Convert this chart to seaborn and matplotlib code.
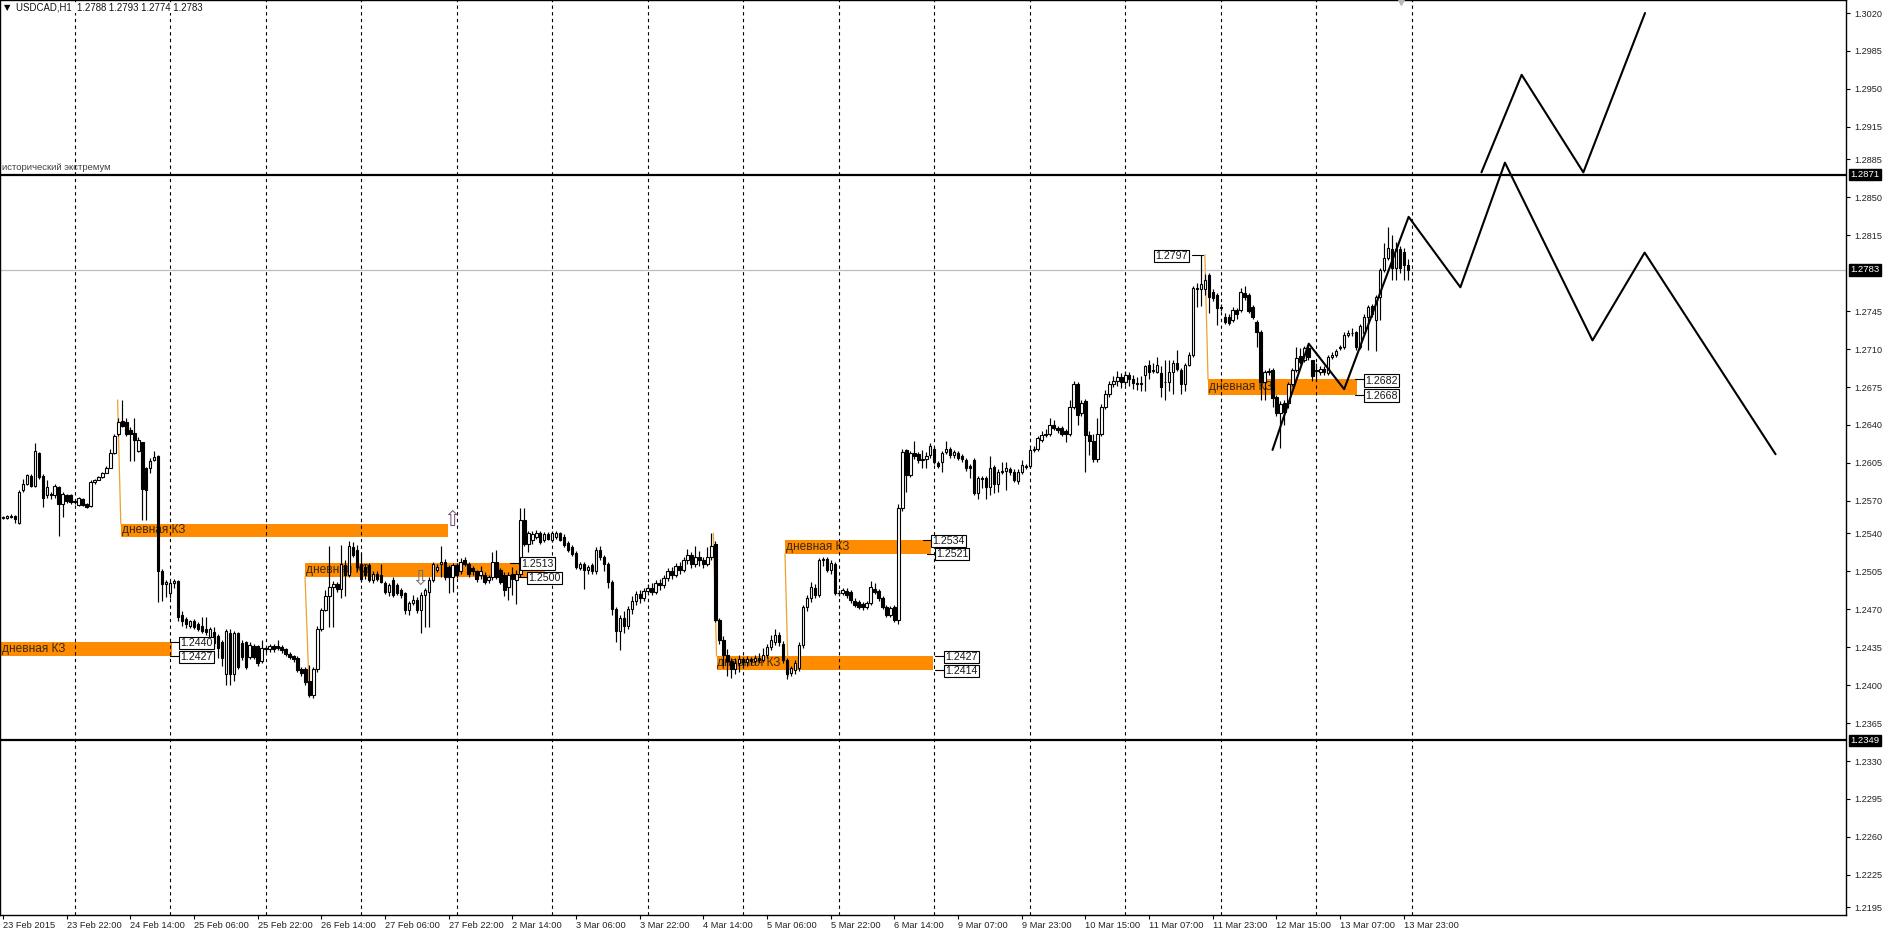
import numpy as np
import matplotlib
matplotlib.use('Agg')
import matplotlib.pyplot as plt
import seaborn as sns

# USDCAD H1, цены 1.XXXX записаны как XXXX (2555 = 1.2555), первый бар 23 Feb 06:00, строка = день
bar_open = [
    2555,2554,2555,2556,2550,2580,2586,2593,2584,2614,2593,2575,2576,2575,2583,2567,2575,2575,
    2570,2566,2572,2567,2565,2587,2589,2592,2596,2600,2614,2632,2644,2643,2635,2633,2616,2624,2600,2600,2608,2611,2505,2493,
    2485,2494,2496,2465,2461,2455,2459,2456,2455,2452,2444,2449,2445,2440,2410,2448,2410,2448,2439,2440,2426,2436,2436,2422,
    2434,2433,2436,2436,2435,2433,2429,2427,2425,2415,2415,2404,2391,2415,2452,2469,2482,2491,2493,2489,2511,2502,2527,2525,
    2512,2509,2511,2497,2503,2502,2494,2486,2497,2492,2488,2485,2469,2476,2479,2469,2483,2486,2497,2506,2512,2514,2509,2500,
    2511,2505,2515,2512,2508,2505,2502,2502,2497,2500,2514,2506,2502,2491,2503,2497,2503,2552,2530,2534,2537,2540,2534,2539,
    2534,2537,2540,2537,2531,2527,2522,2508,2512,2506,2511,2505,2525,2518,2512,2495,2470,2450,2462,2455,2470,2478,2484,2480,
    2487,2490,2486,2494,2492,2499,2505,2502,2510,2506,2515,2520,2512,2518,2515,2512,2518,2530,2460,2442,2428,2422,2415,2420,
    2424,2421,2424,2422,2425,2423,2428,2435,2440,2446,2438,2423,2411,2414,2416,2437,2472,2480,2490,2483,2515,2516,2506,2512,
    2485,2485,2487,2486,2478,2477,2475,2472,2476,2489,2487,2480,2472,2465,2472,2460,2563,2617,2594,2614,2613,2608,2609,2612,
    2618,2605,2606,2615,2618,2612,2614,2611,2608,2602,2608,2577,2591,2591,2583,2601,2586,2597,2598,2599,2597,2588,2597,2602,
    2602,2617,2618,2626,2631,2632,2640,2637,2637,2634,2632,2657,2678,2651,2662,2631,2625,2609,2632,2657,2669,2678,2681,2684,
    2680,2686,2682,2679,2678,2686,2695,2690,2689,2688,2680,2680,2689,2697,2691,2678,2695,2705,2766,2765,2765,2778,2763,2760,
    2748,2740,2740,2737,2746,2746,2762,2760,2749,2735,2726,2680,2689,2691,2666,2651,2660,2660,2678,2691,2704,2700,2711,2700,
    2690,2689,2692,2688,2703,2705,2711,2712,2723,2725,2726,2712,2725,2740,2750,2737,2758,2783,2794,2802,2785,2802,2800,2788,
]
bar_high = [
    2556,2557,2558,2557,2580,2590,2595,2595,2623,2615,2595,2589,2578,2586,2584,2578,2576,2576,
    2572,2574,2573,2568,2589,2590,2593,2597,2602,2618,2632,2646,2663,2646,2638,2646,2629,2624,2601,2610,2616,2612,2507,2497,
    2496,2498,2497,2468,2463,2460,2461,2458,2463,2463,2454,2454,2447,2442,2452,2452,2450,2449,2442,2441,2440,2438,2437,2442,
    2436,2438,2438,2442,2437,2434,2431,2428,2427,2417,2417,2419,2417,2455,2471,2488,2528,2496,2495,2529,2515,2533,2532,2529,
    2522,2512,2513,2505,2505,2512,2496,2494,2500,2494,2490,2486,2478,2483,2481,2486,2490,2500,2514,2512,2528,2516,2511,2513,
    2513,2517,2518,2514,2510,2506,2510,2504,2502,2523,2525,2508,2504,2504,2509,2506,2563,2563,2542,2542,2543,2542,2541,2541,
    2542,2542,2541,2539,2533,2529,2524,2514,2514,2511,2513,2527,2528,2520,2514,2497,2472,2465,2468,2473,2482,2487,2488,2490,
    2493,2494,2497,2498,2502,2508,2509,2513,2514,2518,2526,2523,2528,2524,2518,2527,2540,2533,2462,2445,2433,2425,2425,2428,
    2426,2427,2426,2428,2430,2434,2438,2446,2452,2449,2441,2425,2418,2423,2440,2474,2483,2495,2493,2517,2518,2518,2515,2514,
    2488,2490,2490,2488,2480,2479,2477,2478,2496,2494,2489,2482,2474,2473,2474,2567,2618,2618,2616,2625,2615,2617,2615,2623,
    2620,2607,2616,2625,2620,2617,2616,2613,2610,2604,2610,2593,2593,2593,2611,2603,2599,2606,2606,2601,2599,2599,2608,2604,
    2619,2621,2630,2634,2636,2646,2645,2639,2639,2636,2663,2681,2680,2663,2664,2634,2632,2646,2659,2672,2681,2685,2690,2688,
    2690,2689,2686,2684,2685,2695,2700,2697,2703,2694,2700,2700,2700,2709,2693,2697,2707,2768,2771,2797,2779,2780,2765,2762,
    2752,2743,2742,2749,2748,2766,2768,2762,2751,2737,2728,2691,2693,2693,2668,2662,2663,2680,2693,2712,2711,2713,2713,2700,
    2697,2694,2694,2705,2707,2710,2714,2726,2728,2729,2727,2733,2742,2751,2752,2760,2785,2808,2823,2815,2809,2805,2803,2793,
]
bar_low = [
    2553,2553,2554,2550,2549,2578,2585,2583,2583,2590,2564,2573,2572,2573,2538,2555,2568,2567,
    2567,2565,2565,2563,2564,2586,2589,2591,2596,2600,2613,2630,2638,2630,2607,2607,2615,2552,2552,2596,2607,2477,2478,2481,
    2480,2490,2459,2455,2453,2453,2452,2450,2448,2446,2442,2435,2425,2418,2400,2400,2404,2415,2423,2415,2424,2424,2418,2420,
    2431,2431,2431,2432,2430,2427,2424,2421,2412,2408,2400,2389,2388,2412,2450,2468,2454,2454,2486,2480,2482,2500,2518,2505,
    2495,2498,2495,2494,2496,2494,2484,2482,2481,2483,2480,2466,2465,2474,2467,2448,2454,2454,2495,2504,2500,2497,2485,2486,
    2499,2503,2510,2500,2502,2495,2498,2493,2494,2497,2498,2493,2482,2479,2483,2475,2500,2528,2523,2530,2535,2530,2532,2534,
    2532,2535,2533,2527,2523,2519,2507,2506,2489,2503,2503,2503,2515,2505,2490,2465,2440,2432,2448,2452,2466,2474,2476,2478,
    2484,2483,2484,2488,2490,2496,2498,2500,2503,2504,2512,2508,2509,2510,2508,2510,2515,2458,2438,2418,2408,2407,2410,2412,
    2417,2418,2419,2420,2421,2421,2425,2432,2437,2436,2420,2406,2408,2410,2413,2434,2468,2477,2480,2481,2510,2504,2503,2483,
    2482,2483,2480,2476,2472,2470,2469,2470,2474,2484,2478,2470,2463,2463,2458,2456,2561,2578,2592,2609,2605,2600,2600,2610,
    2604,2600,2597,2613,2610,2610,2608,2606,2598,2591,2575,2572,2582,2572,2575,2577,2578,2595,2580,2594,2587,2586,2595,2599,
    2600,2615,2616,2624,2629,2630,2635,2633,2630,2624,2630,2655,2640,2648,2597,2612,2606,2606,2630,2655,2666,2675,2676,2674,
    2677,2676,2673,2672,2671,2671,2682,2688,2688,2666,2663,2671,2669,2690,2669,2671,2694,2703,2749,2750,2760,2743,2754,2732,
    2745,2733,2732,2735,2738,2744,2755,2743,2738,2712,2663,2663,2686,2657,2648,2619,2640,2656,2676,2689,2696,2698,2700,2681,
    2681,2686,2686,2686,2701,2703,2709,2710,2721,2722,2709,2710,2723,2709,2740,2708,2737,2781,2792,2774,2774,2780,2774,2774,
]
bar_close = [
    2554,2556,2556,2553,2578,2586,2594,2584,2616,2592,2573,2583,2575,2584,2567,2576,2570,2569,
    2569,2573,2566,2564,2587,2589,2592,2596,2600,2614,2630,2643,2639,2632,2632,2626,2626,2581,2580,2607,2610,2505,2493,2495,
    2494,2496,2463,2459,2456,2459,2454,2452,2450,2449,2452,2439,2434,2425,2450,2410,2448,2417,2426,2417,2437,2426,2420,2434,
    2433,2436,2433,2434,2432,2429,2426,2424,2414,2411,2403,2391,2415,2452,2469,2482,2491,2493,2489,2512,2502,2528,2520,2509,
    2498,2502,2497,2503,2498,2495,2486,2492,2483,2485,2483,2469,2476,2479,2469,2483,2488,2497,2512,2509,2514,2500,2500,2511,
    2502,2514,2512,2503,2505,2498,2505,2495,2500,2514,2500,2495,2488,2502,2498,2503,2552,2530,2540,2539,2540,2532,2539,2535,
    2540,2540,2534,2529,2525,2521,2509,2512,2506,2509,2505,2525,2518,2512,2495,2470,2450,2462,2455,2470,2478,2484,2480,2487,
    2490,2486,2494,2492,2499,2505,2502,2510,2506,2515,2520,2512,2518,2515,2512,2518,2528,2460,2442,2428,2422,2415,2420,2424,
    2421,2424,2422,2425,2423,2428,2435,2442,2446,2440,2423,2410,2416,2420,2437,2472,2480,2491,2483,2515,2516,2506,2513,2485,
    2485,2488,2483,2479,2474,2472,2472,2476,2491,2486,2480,2472,2465,2471,2460,2563,2615,2594,2614,2611,2608,2609,2611,2621,
    2606,2602,2614,2618,2612,2615,2610,2609,2600,2600,2577,2591,2590,2583,2600,2586,2597,2598,2600,2597,2589,2597,2603,2601,
    2617,2618,2628,2631,2632,2640,2637,2635,2632,2632,2657,2678,2649,2660,2631,2625,2609,2632,2657,2669,2678,2681,2684,2680,
    2686,2682,2679,2678,2679,2694,2689,2691,2695,2675,2680,2689,2697,2692,2678,2695,2705,2766,2765,2770,2774,2758,2757,2748,
    2749,2735,2734,2746,2742,2763,2758,2745,2740,2726,2680,2689,2690,2665,2651,2659,2652,2678,2691,2702,2698,2711,2703,2685,
    2691,2692,2689,2703,2705,2708,2712,2723,2725,2725,2712,2731,2740,2749,2742,2758,2783,2794,2803,2785,2802,2785,2788,2783,
]

# разделители дней (номер бара 00:00) и подписи времени
sep_bars = [18, 42, 66, 90, 114, 138, 162, 186, 210, 234, 258, 282, 306, 330, 354]
xtick_bars = [0, 16, 32, 48, 64, 80, 96, 112, 128, 144, 160, 176, 192, 208, 224, 240,
              256, 272, 288, 304, 320, 336, 352]
xtick_labels = ["23 Feb 2015", "23 Feb 22:00", "24 Feb 14:00", "25 Feb 06:00", "25 Feb 22:00",
                "26 Feb 14:00", "27 Feb 06:00", "27 Feb 22:00", "2 Mar 14:00", "3 Mar 06:00",
                "3 Mar 22:00", "4 Mar 14:00", "5 Mar 06:00", "5 Mar 22:00", "6 Mar 14:00",
                "9 Mar 07:00", "9 Mar 23:00", "10 Mar 15:00", "11 Mar 07:00", "11 Mar 23:00",
                "12 Mar 15:00", "13 Mar 07:00", "13 Mar 23:00"]
ytick_vals = [1.3020, 1.2985, 1.2950, 1.2915, 1.2885, 1.2850, 1.2815, 1.2745, 1.2710,
              1.2675, 1.2640, 1.2605, 1.2570, 1.2540, 1.2505, 1.2470, 1.2435, 1.2400, 1.2365,
              1.2330, 1.2295, 1.2260, 1.2225, 1.2195]
marked_levels = [1.2871, 1.2783, 1.2349]

# зоны "дневная КЗ"
zone_x0 = [29.6, 75.9, -0.75, 196.5, 179.3, 302.8]
zone_x1 = [111.9, 136.2, 42.5, 233.3, 233.6, 340.2]
zone_lo = [1.2537, 1.2500, 1.2427, 1.2521, 1.2414, 1.2668]
zone_hi = [1.2549, 1.2513, 1.2440, 1.2534, 1.2427, 1.2682]

# тонкие линии от экстремума к зоне
ext_x0 = [28.8, 77.0, 197.3, 178.5, 302.0]
ext_y0 = [1.2663, 1.2389, 1.2408, 1.2540, 1.2797]
ext_x1 = [29.6, 75.9, 196.5, 179.3, 302.8]
ext_y1 = [1.2549, 1.2500, 1.2521, 1.2427, 1.2682]

# ценовые метки
tag_text = ["1.2440", "1.2427", "1.2513", "1.2500", "1.2534", "1.2521",
            "1.2427", "1.2414", "1.2682", "1.2668", "1.2797"]
tag_x = [44.5, 44.5, 130.3, 132.0, 233.5, 234.4, 236.7, 236.7, 342.2, 342.2, 289.6]
tag_y = [1.2439, 1.2426, 1.2512, 1.2499, 1.2533, 1.2521, 1.2426, 1.2413, 1.2681, 1.2667, 1.2796]
lead_x0 = [42.0, 42.0, 127.4, 129.5, 231.1, 232.1, 234.2, 234.2, 339.7, 339.7, 298.7]
lead_x1 = [44.5, 44.5, 130.3, 132.0, 233.5, 234.4, 236.7, 236.7, 342.2, 342.2, 301.6]
lead_y = [1.2440, 1.2427, 1.2513, 1.2500, 1.2534, 1.2521, 1.2427, 1.2414, 1.2682, 1.2668, 1.2797]

# прогнозные зигзаги
fc_a_x = [319.0, 328.1, 337.0, 353.2, 366.2, 377.4, 399.4, 412.5, 445.4]
fc_a_y = [1.2617, 1.2715, 1.2673, 1.2832, 1.2767, 1.2882, 1.2718, 1.2799, 1.2613]
fc_b_x = [371.5, 381.6, 397.1, 412.6]
fc_b_y = [1.2873, 1.2963, 1.2873, 1.3020]

sns.set_theme(style="white")
plt.rcParams['font.family'] = ['Liberation Sans', 'DejaVu Sans']

o = 1 + np.array(bar_open) / 10000
h = 1 + np.array(bar_high) / 10000
l = 1 + np.array(bar_low) / 10000
c = 1 + np.array(bar_close) / 10000
x = np.arange(len(o))
h = np.maximum(h, np.maximum(o, c))
l = np.minimum(l, np.minimum(o, c))

W, H = 1888, 933
fig = plt.figure(figsize=(W / 100, H / 100), dpi=100)
fig.patch.set_facecolor("white")
ax = fig.add_axes([0, 18 / H, 1846 / W, 915 / H])
ax.set_facecolor("white")
ax.set_xlim(-0.75, 463.1)
ax.set_ylim(1.2188, 1.3032)

# зоны
orange = "#FF8C00"
for x0, x1, lo, hi in zip(zone_x0, zone_x1, zone_lo, zone_hi):
    ax.barh((lo + hi) / 2, x1 - x0, left=x0, height=hi - lo, color=orange,
            edgecolor="none", zorder=1)
    ax.text(max(x0, -0.5) + 0.2, (lo + hi) / 2 - 0.00003, "дневная КЗ", fontsize=8.6,
            color="#3a2a12", va="center", ha="left", zorder=1.5)
for x0, y0, x1, y1 in zip(ext_x0, ext_y0, ext_x1, ext_y1):
    ax.plot([x0, x1], [y0, y1], color="#F0A030", lw=0.9, zorder=1.6)

# разделители дней
for s in sep_bars:
    ax.axvline(s, color="black", lw=0.8, ls=(0, (3, 3)), zorder=2)

# уровни
ax.axhline(1.2871, color="black", lw=1.6, zorder=2.5)
ax.axhline(1.2349, color="black", lw=1.6, zorder=2.5)
ax.axhline(1.2783, color="#bdbdbd", lw=0.9, zorder=2.4)
ax.text(-0.3, 1.28735, "исторический экстремум", fontsize=6.8, color="#404040",
        va="bottom", ha="left", zorder=3)

# свечи
up = c >= o
ax.vlines(x, l, h, color="black", lw=0.85, zorder=3)
ax.bar(x[up], (c - o)[up], bottom=o[up], width=0.62, color="white",
       edgecolor="black", lw=0.8, zorder=3.2)
ax.bar(x[~up], (o - c)[~up], bottom=c[~up], width=0.62, color="black",
       edgecolor="black", lw=0.8, zorder=3.2)

# стрелки
ax.text(112.8, 1.2552, "⇧", fontsize=15, color="#7a4f7a", ha="center", va="center",
        family="DejaVu Sans", zorder=4)
ax.text(104.8, 1.2498, "⇩", fontsize=15, color="#707070", ha="center", va="center",
        family="DejaVu Sans", zorder=4)

# прогноз
sns.lineplot(x=fc_a_x, y=fc_a_y, sort=False, estimator=None, color="black", lw=1.5,
             ax=ax, zorder=4.5)
sns.lineplot(x=fc_b_x, y=fc_b_y, sort=False, estimator=None, color="black", lw=1.5,
             ax=ax, zorder=4.5)

# ценовые метки
for x0, x1, yy in zip(lead_x0, lead_x1, lead_y):
    ax.plot([x0, x1], [yy, yy], color="black", lw=0.8, zorder=5)
for t, tx, ty in zip(tag_text, tag_x, tag_y):
    ax.text(tx, ty, t, fontsize=7.7, color="#1a1a1a", ha="left", va="center", zorder=6,
            bbox=dict(boxstyle="square,pad=0.12", fc="white", ec="black", lw=0.8))

ax.plot([351.3], [1.3031], marker="v", color="#b8b8b8", ms=6, zorder=4)

# оси
for sp in ax.spines.values():
    sp.set_color("black")
    sp.set_linewidth(1.0)
ax.yaxis.tick_right()
ax.set_yticks(ytick_vals)
ax.set_yticklabels([f"{v:.4f}" for v in ytick_vals])
ax.tick_params(axis="y", right=True, left=False, length=3, width=0.8, direction="out",
               labelsize=6.6, pad=3, colors="black", labelcolor="#222222")
ax.set_xticks(xtick_bars)
ax.set_xticklabels(xtick_labels, ha="left")
ax.tick_params(axis="x", bottom=True, length=3, width=0.8, direction="out",
               labelsize=6.7, pad=1, colors="black", labelcolor="#222222")
ax.grid(False)

for lv in marked_levels:
    ax.annotate(f"{lv:.4f}", xy=(1, lv), xycoords=("axes fraction", "data"),
                xytext=(3.0, 0), textcoords="offset points", fontsize=6.8, color="white",
                ha="left", va="center", annotation_clip=False,
                bbox=dict(boxstyle="square,pad=0.15", fc="black", ec="black"))

# заголовок
fig.text(4 / W, 1 - 8 / H, "▼", fontsize=6, family="DejaVu Sans", va="center",
         ha="left", color="black")
fig.text(16 / W, 1 - 8 / H, "USDCAD,H1  1.2788 1.2793 1.2774 1.2783", fontsize=6.9,
         va="center", ha="left", color="#111111",
         bbox=dict(boxstyle="square,pad=0.05", fc="white", ec="none"))

fig.savefig("out.png", dpi=100)
